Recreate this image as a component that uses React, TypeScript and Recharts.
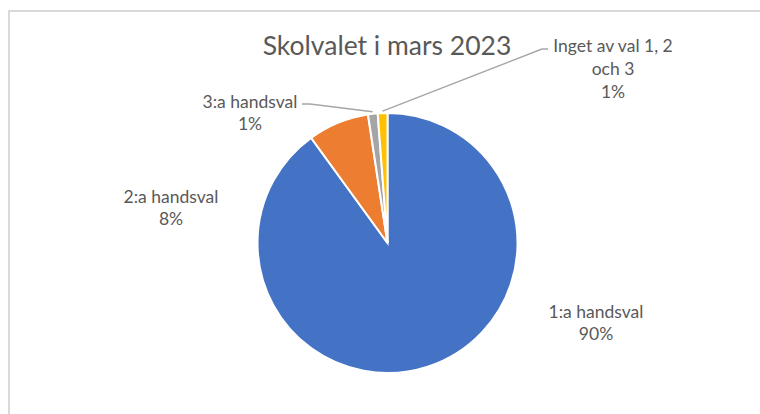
import React from "react";
import { PieChart, Pie, Cell } from "recharts";

const categories = ["1:a handsval", "2:a handsval", "3:a handsval", "Inget av val 1, 2 och 3"];
const values = [90.0, 7.6, 1.2, 1.2];
const labelLines = [["1:a handsval"], ["2:a handsval"], ["3:a handsval"], ["Inget av val 1, 2", "och 3"]];
const colors = ["#4472C4", "#ED7D31", "#A5A5A5", "#FFC000"];
const title = "Skolvalet i mars 2023";

// label layout relative to pie center (style, not data)
const labelOffsets = [
  { dx: 208.5, dy: 68 },
  { dx: -216.5, dy: -47 },
  { dx: -137.5, dy: -142 },
  { dx: 225.5, dy: -198 },
];
const leaderKnees: (null | { kx: number; ky: number; ex: number })[] = [
  null,
  null,
  { kx: -77.5, ky: -139, ex: -85.5 },
  { kx: 154.5, ky: -194, ex: 160.5 },
];

const data = categories.map((name, i) => ({ name, value: values[i] }));

const TEXT = "#595959";
const FONT = "Lato, 'Noto Sans', sans-serif";

const renderLabel = (props: any) => {
  const { cx, cy, midAngle, outerRadius, index, percent } = props;
  const off = labelOffsets[index];
  const x = cx + off.dx;
  const y = cy + off.dy;
  const lines = [...labelLines[index], `${Math.round(percent * 100)}%`];
  const lh = index === 3 ? 23 : 22;
  const knee = leaderKnees[index];
  let leader = null;
  if (knee) {
    const rad = (Math.PI / 180) * midAngle;
    const px = cx + (outerRadius + 2) * Math.cos(rad);
    const py = cy - (outerRadius + 2) * Math.sin(rad);
    leader = (
      <polyline
        points={`${px},${py} ${cx + knee.kx},${cy + knee.ky} ${cx + knee.ex},${cy + knee.ky}`}
        fill="none"
        stroke="#A6A6A6"
        strokeWidth={1.5}
      />
    );
  }
  return (
    <g key={`lbl-${index}`}>
      {leader}
      <text x={x} y={y} textAnchor="middle" fill={TEXT} fontFamily={FONT} fontSize={17.5}>
        {lines.map((t, i) => (
          <tspan key={i} x={x} y={y + i * lh} dominantBaseline="central">
            {t}
          </tspan>
        ))}
      </text>
    </g>
  );
};

export default function App() {
  return (
    <div style={{ position: "absolute", left: 0, top: 0, width: 760, height: 414, background: "#fff", overflow: "hidden" }}>
      <div
        style={{
          position: "absolute",
          left: 8,
          top: 10,
          width: 800,
          height: 500,
          borderLeft: "2px solid #D9D9D9",
          borderTop: "2px solid #D9D9D9",
        }}
      />
      <div style={{ position: "absolute", left: 0, top: 0 }}>
        <PieChart width={760} height={414} margin={{ top: 0, right: 0, bottom: 0, left: 0 }}>
          <text x={387} y={45} textAnchor="middle" dominantBaseline="central" fill={TEXT} fontFamily={FONT} fontSize={26.5}>
            {title}
          </text>
          <Pie
            data={data}
            dataKey="value"
            nameKey="name"
            cx={387.5}
            cy={243}
            outerRadius={130}
            startAngle={90}
            endAngle={-270}
            stroke="#FFFFFF"
            strokeWidth={2}
            isAnimationActive={false}
            label={renderLabel}
            labelLine={false}
          >
            {data.map((d, i) => (
              <Cell key={d.name} fill={colors[i]} />
            ))}
          </Pie>
        </PieChart>
      </div>
    </div>
  );
}
